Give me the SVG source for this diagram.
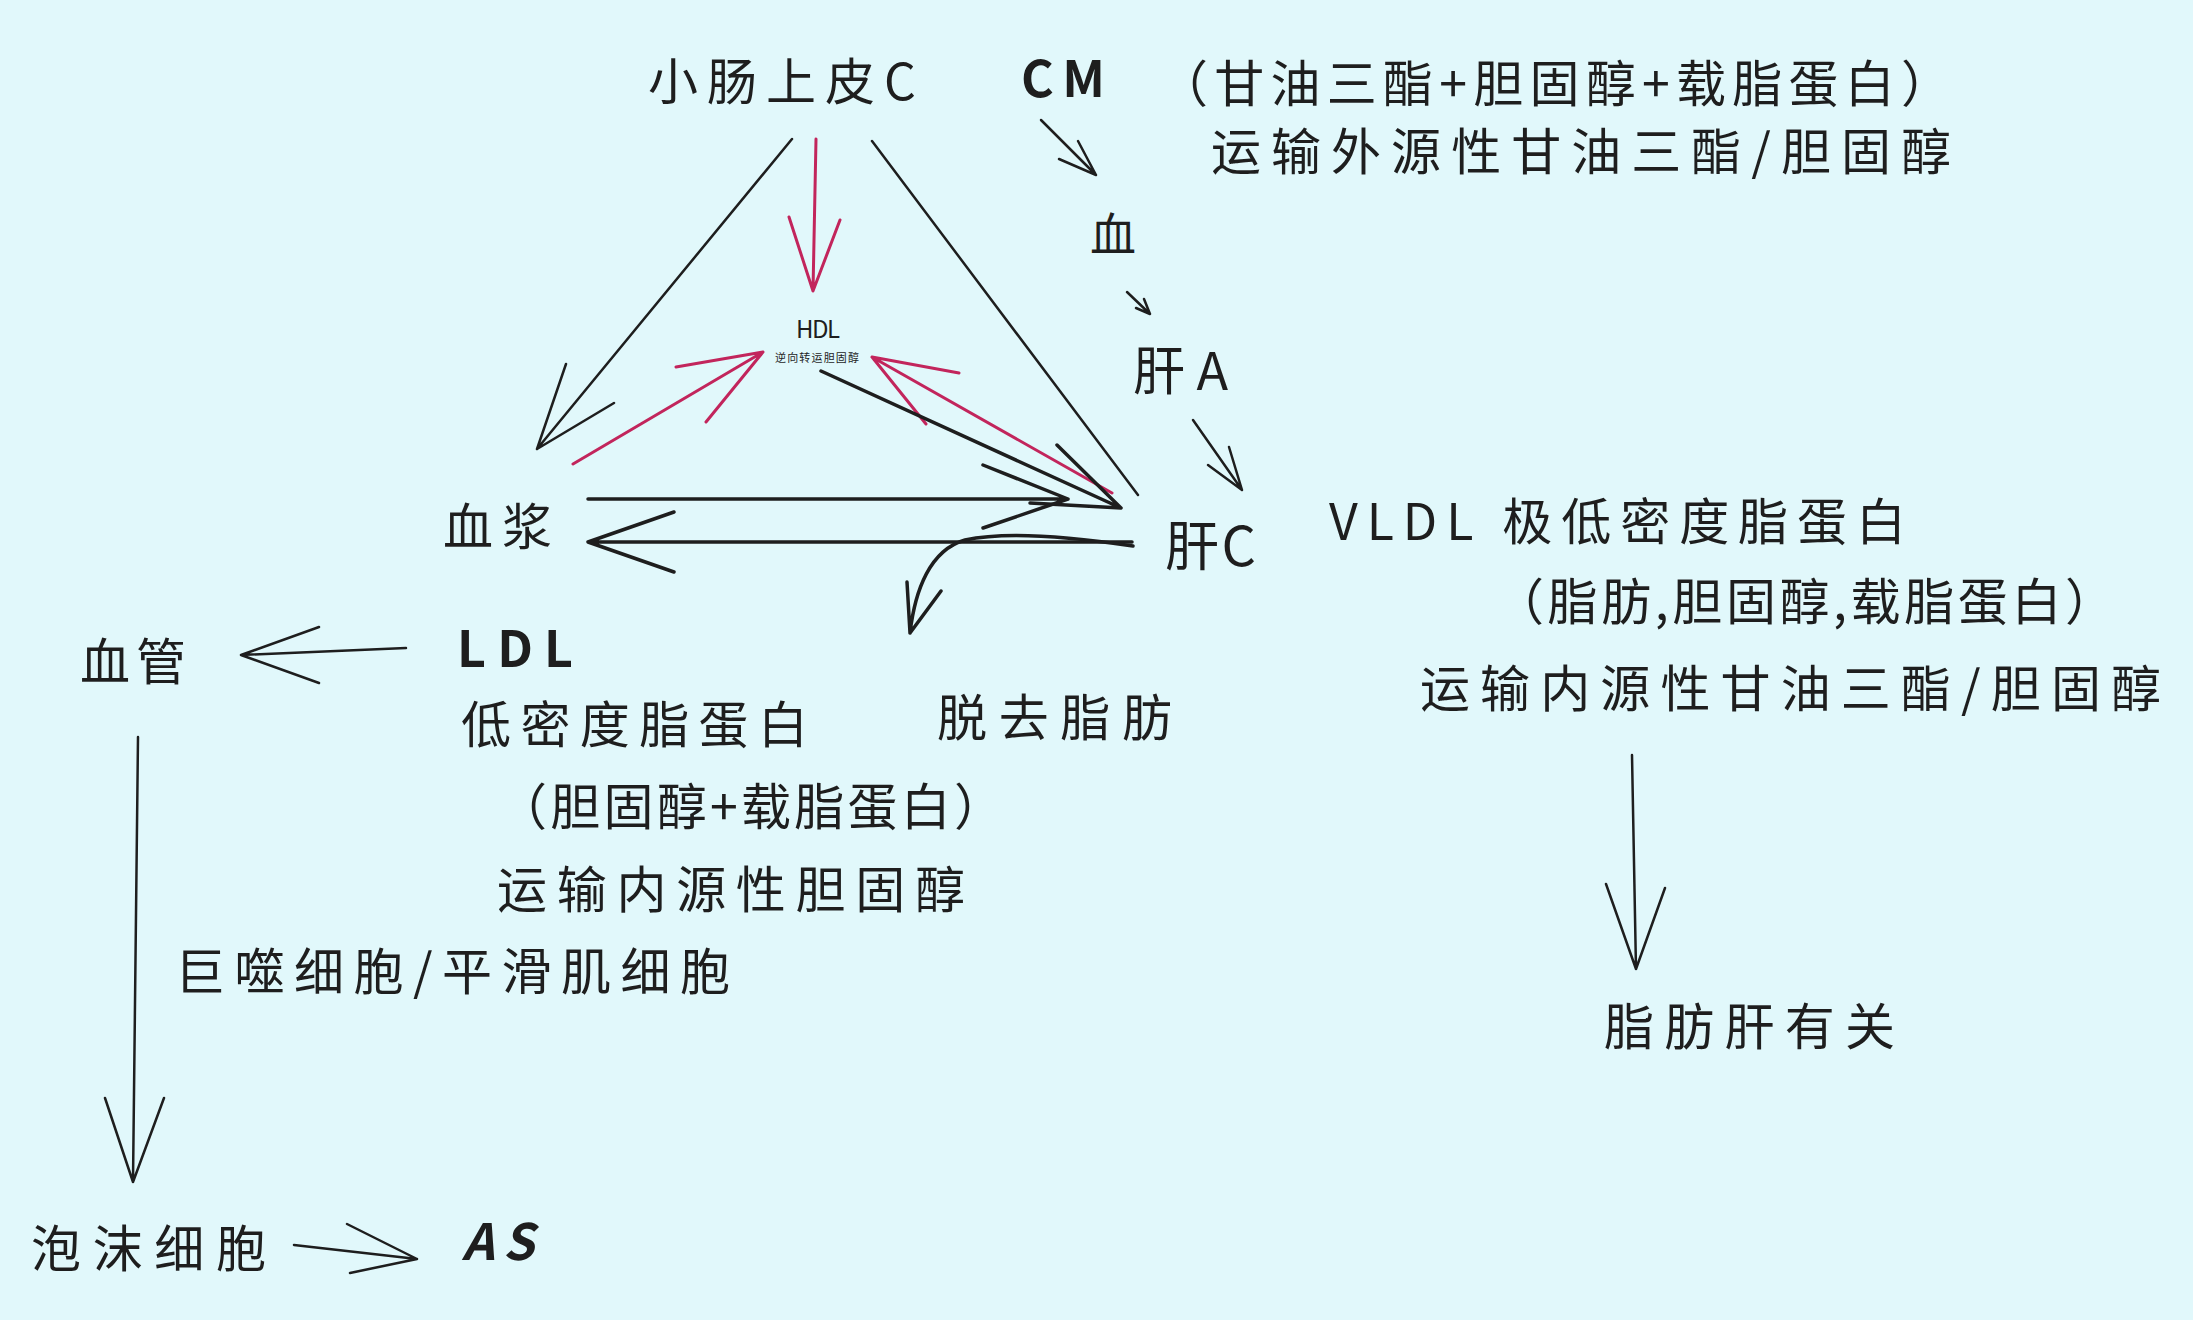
<svg xmlns="http://www.w3.org/2000/svg" width="2193" height="1320" viewBox="0 0 2193 1320">
<style>
text{font-family:"Noto Sans CJK SC","Noto Sans",sans-serif;fill:#1e1e1e;font-size:50px}
.b{font-weight:700}
.k{stroke:#1e1e1e;fill:none;stroke-linecap:round;stroke-linejoin:round;stroke-width:2.5}
.t{stroke-width:3.5}
.r{stroke:#c2255c;fill:none;stroke-linecap:round;stroke-linejoin:round;stroke-width:3}
</style>
<rect width="2193" height="1320" fill="#e1f8fb"/>
<g id="connectors">
<path class="k" d="M1041 120 L1096 175 M1059 159 L1096 175 L1078 141"/>
<path class="k" d="M1127 292 L1150 314 M1136 308 L1150 314 L1144 299"/>
<path class="k" d="M1193 420 L1242 490 M1208 465 L1242 490 L1229 447"/>
<path class="k" d="M792 139 L537 449 M566 364 L537 449 L614 403"/>
<path class="k" d="M872 141 L1138 495"/>
<path class="r" d="M816 139 L813 291 M789 217 L813 291 L840 220"/>
<path class="r" d="M573 464 L763 352 M676 367 L763 352 L706 422"/>
<path class="r" d="M1112 493 L872 357 M959 373 L872 357 L926 424"/>
<path class="k t" d="M821 371 L1121 508 M1057 445 L1121 508 L1030 503"/>
<path class="k t" d="M588 499 L1068 499 M983 465 L1068 499 L983 528"/>
<path class="k t" d="M1132 542 L588 542 M674 512 L588 542 L674 572"/>
<path class="k t" d="M1133 546 C1080 538 1010 530 965 540 C930 550 915 590 910 633 M907 582 L910 633 L941 591"/>
<path class="k" d="M406 648 L241 655 M319 627 L241 655 L319 683"/>
<path class="k" d="M138 737 L133 1182 M105 1098 L133 1182 L164 1098"/>
<path class="k" d="M294 1245 L417 1259 M347 1224 L417 1259 L350 1273"/>
<path class="k" d="M1632 755 L1636 969 M1606 884 L1636 969 L1665 888"/>
</g>
<g id="n-xiaochang"><text x="648" y="100" textLength="268" lengthAdjust="spacing">小肠上皮C</text></g>
<g id="n-cm">
<text class="b" x="1021" y="97" textLength="84" lengthAdjust="spacing">CM</text>
<text x="1158" y="102" textLength="793" lengthAdjust="spacing">（甘油三酯+胆固醇+载脂蛋白）</text>
<text x="1211" y="170" textLength="740" lengthAdjust="spacing">运输外源性甘油三酯/胆固醇</text>
</g>
<g id="n-xue"><text x="1090" y="251" style="font-size:46px">血</text></g>
<g id="n-ganA"><text x="1133" y="390" style="font-size:52px" textLength="95" lengthAdjust="spacing">肝A</text></g>
<g id="n-ganC"><text x="1165" y="566" style="font-size:54px" textLength="91" lengthAdjust="spacing">肝C</text></g>
<g id="n-hdl">
<text x="796" y="338" style="font-size:24px" textLength="44" lengthAdjust="spacing">HDL</text>
<text x="775" y="362" style="font-size:11px" textLength="84" lengthAdjust="spacing">逆向转运胆固醇</text>
</g>
<g id="n-vldl">
<text x="1329" y="540" textLength="577" lengthAdjust="spacing">VLDL 极低密度脂蛋白</text>
<text x="1494" y="620" textLength="621" lengthAdjust="spacing">（脂肪,胆固醇,载脂蛋白）</text>
<text x="1420" y="707" textLength="741" lengthAdjust="spacing">运输内源性甘油三酯/胆固醇</text>
</g>
<g id="n-zhifanggan"><text x="1604" y="1045" textLength="291" lengthAdjust="spacing">脂肪肝有关</text></g>
<g id="n-xuejiang"><text x="443" y="545" textLength="109" lengthAdjust="spacing">血浆</text></g>
<g id="n-xueguan"><text x="80" y="680" textLength="106" lengthAdjust="spacing">血管</text></g>
<g id="n-ldl">
<text class="b" x="457" y="667" textLength="116" lengthAdjust="spacing">LDL</text>
<text x="461" y="743" textLength="347" lengthAdjust="spacing">低密度脂蛋白</text>
<text x="497" y="825" textLength="507" lengthAdjust="spacing">（胆固醇+载脂蛋白）</text>
<text x="497" y="908" textLength="468" lengthAdjust="spacing">运输内源性胆固醇</text>
</g>
<g id="n-tuoqu"><text x="937" y="736" textLength="235" lengthAdjust="spacing">脱去脂肪</text></g>
<g id="n-jushi"><text x="175" y="990" textLength="555" lengthAdjust="spacing">巨噬细胞/平滑肌细胞</text></g>
<g id="n-paomo"><text x="31" y="1267" textLength="235" lengthAdjust="spacing">泡沫细胞</text></g>
<g id="n-as"><text class="b" x="462" y="1260" font-style="italic" textLength="72" lengthAdjust="spacing">AS</text></g>
</svg>
